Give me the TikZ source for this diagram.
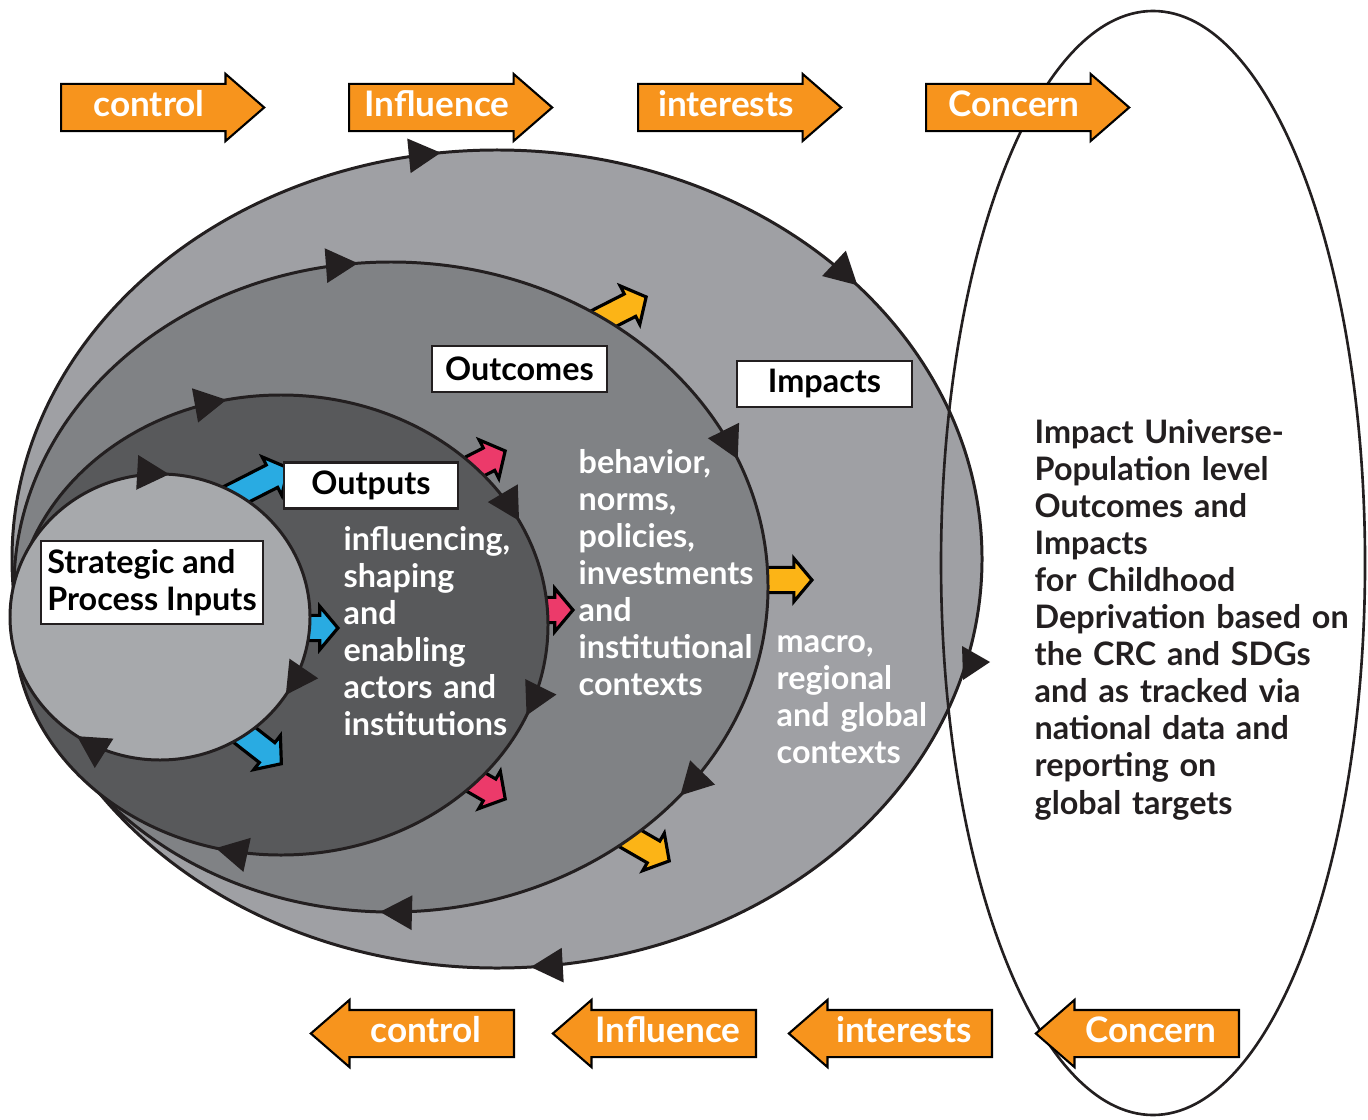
\documentclass[tikz,border=0pt]{standalone}
\usepackage{fontspec}
\setmainfont{Lato}
\usetikzlibrary{shapes.arrows,arrows.meta,decorations.markings}

\definecolor{outergray}{RGB}{159,160,164}
\definecolor{outcomegray}{RGB}{128,130,133}
\definecolor{outputgray}{RGB}{88,89,91}
\definecolor{inputgray}{RGB}{167,169,172}
\definecolor{inkblack}{RGB}{35,31,32}
\definecolor{arroworange}{RGB}{247,148,29}
\definecolor{arrowyellow}{RGB}{252,180,22}
\definecolor{arrowpink}{RGB}{236,58,106}
\definecolor{arrowcyan}{RGB}{41,171,226}

\newcommand{\bodyfont}{\fontsize{9.2}{10.55}\selectfont\bfseries}
\newcommand{\arrowfont}{\fontsize{10}{12}\selectfont\bfseries}

\tikzset{
  cyclehead/.tip={Triangle[length=0.32cm,width=0.34cm]},
  /pgf/decoration/tipat/.style={mark=at position #1 with {\arrow{cyclehead}}},
  ring/.style={draw=inkblack, line width=0.85pt},
  flowarrow/.style={single arrow, draw=black, line width=0.9pt, minimum height=0.62cm,
    minimum width=0pt, inner sep=0pt, inner ysep=0.11cm,
    single arrow head extend=0.09cm, single arrow tip angle=100, anchor=tip},
  orangeright/.style={single arrow, draw=black, line width=0.6pt, fill=arroworange,
    text=white, font=\arrowfont, minimum height=2.03cm, minimum width=0pt,
    single arrow head extend=0.1cm, single arrow tip angle=82,
    text height=0.25cm, text depth=0.07cm, inner ysep=0.065cm, inner xsep=0pt,
    anchor=tail},
  orangeleft/.style={orangeright, shape border rotate=180},
  labelbox/.style={draw=inkblack, fill=white, line width=0.6pt, font=\bodyfont,
    text=black, minimum height=0.46cm, inner sep=0.05cm},
  bodytext/.style={font=\bodyfont, align=left, text width=2.4cm, inner sep=0pt,
    anchor=base west}
}

\begin{document}
\begin{tikzpicture}[x=0.01cm, y=-0.01cm]
\useasboundingbox (0,0) rectangle (1368,1119);

% impacts ring
\draw[ring, fill=outergray, postaction={decorate, decoration={markings,
  tipat=0.238, tipat=0.73, tipat=0.89}}] (497,559) ellipse [x radius=485, y radius=409];
\fill[inkblack] (962,646) -- (990,662) -- (963,680) -- cycle;
% impact universe
\draw[inkblack, line width=0.75pt] (1153,563) ellipse [x radius=212, y radius=552];

% outcomes ring
\node[flowarrow, fill=arrowyellow, rotate=27, minimum height=0.65cm] (outcA) at (648,296) {};
\node[flowarrow, fill=arrowyellow, minimum height=0.6cm] (outcB) at (814,580) {};
\node[flowarrow, fill=arrowyellow, rotate=-30, minimum height=0.65cm] (outcC) at (671,862) {};
\draw[ring, fill=outcomegray, postaction={decorate, decoration={markings,
  tipat=0.105, tipat=0.255, tipat=0.735, tipat=0.94}}] (391,587) ellipse [x radius=377, y radius=325];

% outputs ring
\node[flowarrow, fill=arrowpink, rotate=27] (outpA) at (507,450) {};
\node[flowarrow, fill=arrowpink, minimum height=0.5cm] (outpB) at (575,610) {};
\node[flowarrow, fill=arrowpink, rotate=-30] (outpC) at (507,800) {};
\draw[ring, fill=outputgray, postaction={decorate, decoration={markings,
  tipat=0.06, tipat=0.292, tipat=0.715, tipat=0.93}}] (281,625) ellipse [x radius=267, y radius=230];

% inputs circle
\node[flowarrow, fill=arrowcyan, rotate=27, minimum height=0.75cm] (inpA) at (290,467) {};
\node[flowarrow, fill=arrowcyan, minimum height=0.5cm] (inpB) at (340,628) {};
\node[flowarrow, fill=arrowcyan, rotate=-38, minimum height=0.7cm] (inpC) at (283,765) {};
\draw[ring, fill=inputgray, postaction={decorate, decoration={markings,
  tipat=0.09, tipat=0.345, tipat=0.76}}] (160,617) ellipse [x radius=150, y radius=143];

% labels
\node[labelbox, minimum width=1.75cm] (outcomes) at (519.5,369) {Outcomes};
\node[labelbox, minimum width=1.75cm] (impacts) at (824.5,384) {Impacts};
\node[labelbox, minimum width=1.74cm] (outputs) at (371,485.5) {Outputs};
\node[labelbox, minimum width=2.22cm, minimum height=0.83cm, align=left] (inputs) at (152,582.5) {Strategic and\\Process Inputs};

\node[bodytext, text=white] (outputtext) at (343,550) {influencing,\\shaping\\and\\enabling\\actors and\\institutions};
\node[bodytext, text=white] (outcometext) at (578,473) {behavior,\\norms,\\policies,\\investments\\and\\institutional\\contexts};
\node[bodytext, text=white] (impacttext) at (776,652) {macro,\\regional\\and global\\contexts};
\node[bodytext, text=inkblack, text width=3.8cm] (universetext) at (1034,443) {Impact Universe-\\Population level\\Outcomes and\\Impacts\\for Childhood\\Deprivation based on\\the CRC and SDGs\\and as tracked via\\national data and\\reporting on\\global targets};

% spheres
\node[orangeright] (ctrlTop) at (60,107.5) {control};
\node[orangeright] (inflTop) at (348,107.5) {Influence};
\node[orangeright] (intTop) at (637,107.5) {interests};
\node[orangeright] (concTop) at (925,107.5) {Concern};
\node[orangeleft] (ctrlBot) at (515,1033.5) {control};
\node[orangeleft] (inflBot) at (757,1033.5) {Influence};
\node[orangeleft] (intBot) at (993,1033.5) {interests};
\node[orangeleft] (concBot) at (1240,1033.5) {Concern};
\end{tikzpicture}
\end{document}
